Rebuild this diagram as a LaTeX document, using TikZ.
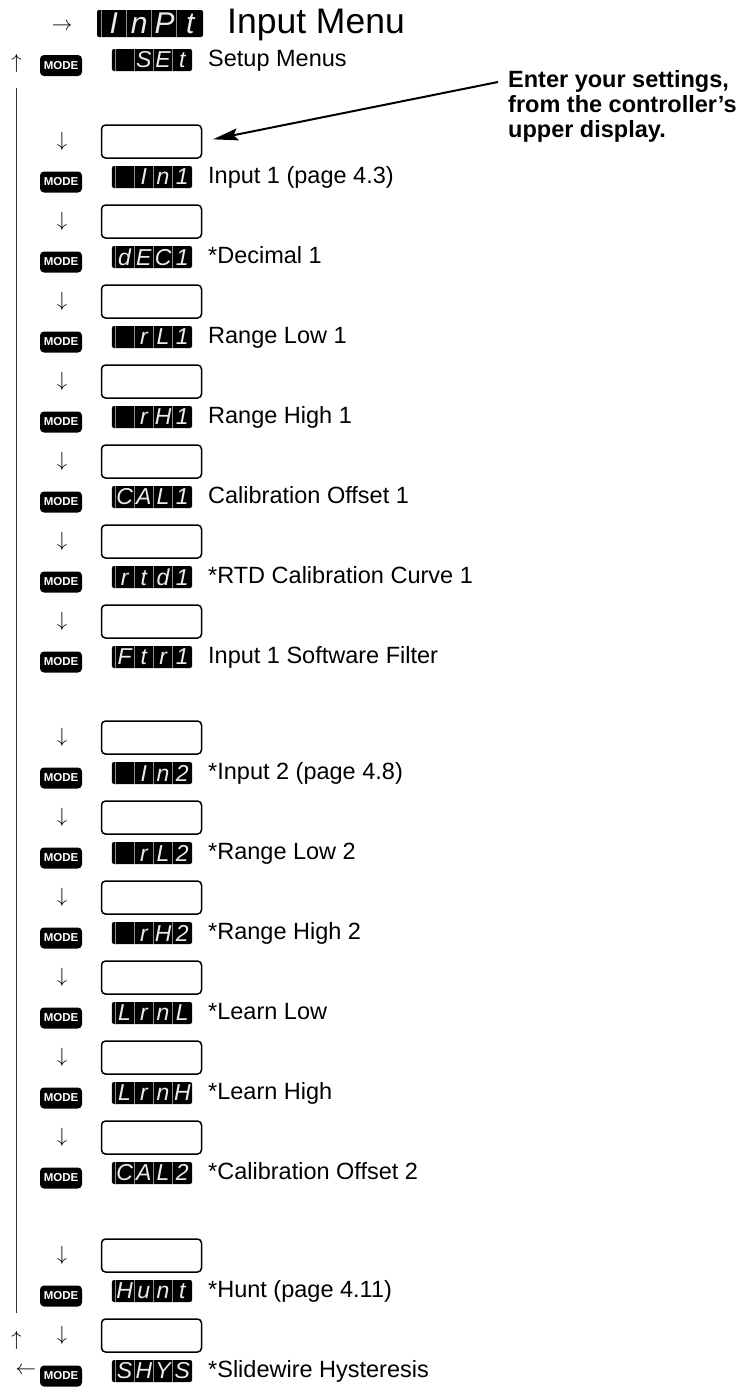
\documentclass[tikz,border=0pt]{standalone}
\usepackage{graphicx}
\usepackage{fontspec}
\setmainfont{Liberation Sans}
\usetikzlibrary{arrows.meta,calc}

% four cells of the controller display
\newcommand{\lcd}[5]{\vphantom{H}\kern0.156\dimexpr#1\relax\makebox[#1]{#2}\makebox[#1]{#3}\makebox[#1]{#4}\makebox[#1]{#5}}
% thin step arrows
\newcommand{\steparrow}[1]{\scalebox{2.05}{$#1$}}

\begin{document}
\begin{tikzpicture}[x=1pt,y=-1pt,>=Stealth,
lcdbox/.style={fill=black,rounded corners=2pt,minimum width=80pt,minimum height=22pt,inner sep=0pt,
  text=white!92!black,font=\fontsize{23}{23}\selectfont\itshape,
  path picture={\foreach \f in {0.0375,0.275,0.5125,0.75}
    \draw[black!45,line width=0.7pt]
    ($(path picture bounding box.south west)!\f!(path picture bounding box.south east)$)--
    ($(path picture bounding box.north west)!\f!(path picture bounding box.north east)$);}},
biglcd/.style={lcdbox,minimum width=106pt,minimum height=27pt,font=\fontsize{30}{30}\selectfont\itshape},
modekey/.style={fill=black,rounded corners=4pt,minimum width=42pt,minimum height=21pt,inner sep=0pt,
  text=white,font=\fontsize{11.5}{11.5}\selectfont\bfseries},
entry/.style={draw=black,line width=1.5pt,rounded corners=4pt,minimum width=100pt,minimum height=33pt,inner sep=0pt},
glyph/.style={inner sep=0pt,font=\normalsize},
itemtext/.style={anchor=base west,inner sep=0pt,font=\fontsize{23.5}{25}\selectfont},
title/.style={anchor=base west,inner sep=0pt,font=\fontsize{35.5}{36}\selectfont},
note/.style={anchor=north west,inner sep=0pt,align=left,font=\fontsize{23.5}{25}\selectfont\bfseries},
callout/.style={-{Stealth[length=25pt,width=12pt,inset=4pt]},line width=2pt,shorten >=11pt},
loopline/.style={line width=1pt,draw=black!80}]
\useasboundingbox (0,0) rectangle (755,1387);
% menu head
\node[glyph] (enter) at (62,27) {\steparrow{\rightarrow}};
\node[biglcd] (dInPt) at (150,23.5) {\lcd{25.5pt}{I}{n}{P}{t}};
\node[title] (tInPt) at (227,33) {Input Menu};
\node[glyph] (upT) at (16.5,63) {\steparrow{\uparrow}};
\node[modekey] (mSEt) at (61,65.5) {MODE};
\node[lcdbox] (dSEt) at (152,60) {\lcd{19.25pt}{}{S}{E}{t}};
\node[itemtext] (tSEt) at (208,66) {Setup Menus};
% prompts
\foreach \y/\n/\ca/\cb/\cc/\cd/\t in {
  177/In1/{}/I/n/1/{Input 1 (page 4.3)},
  257/dEC1/d/E/C/1/{*Decimal 1},
  337/rL1/{}/r/L/1/{Range Low 1},
  417/rH1/{}/r/H/1/{Range High 1},
  497/CAL1/C/A/L/1/{Calibration Offset 1},
  577/rtd1/r/t/d/1/{*RTD Calibration Curve 1},
  657/Ftr1/F/t/r/1/{Input 1 Software Filter},
  773/In2/{}/I/n/2/{*Input 2 (page 4.8)},
  853/rL2/{}/r/L/2/{*Range Low 2},
  933/rH2/{}/r/H/2/{*Range High 2},
  1013/LrnL/L/r/n/L/{*Learn Low},
  1093/LrnH/L/r/n/H/{*Learn High},
  1173/CAL2/C/A/L/2/{*Calibration Offset 2},
  1291/Hunt/H/u/n/t/{*Hunt (page 4.11)},
  1371/SHYS/S/H/Y/S/{*Slidewire Hysteresis}}{
  \node[entry] (b\n) at (151.5,\y-35.5) {};
  \node[glyph] (a\n) at (62,\y-35.5) {\steparrow{\downarrow}};
  \node[modekey] (m\n) at (61,\y+5) {MODE};
  \node[lcdbox] (d\n) at (152,\y) {\lcd{19.25pt}{\ca}{\cb}{\cc}{\cd}};
  \node[itemtext] (t\n) at (208,\y+6) {\t};
}
% return to the top
\node[glyph] (upB) at (16.5,1340) {\steparrow{\uparrow}};
\node[glyph] (back) at (26,1371) {\steparrow{\leftarrow}};
\draw[loopline] (upT.center)--(upB.center) [shorten <=25pt,shorten >=27pt];
% hint
\node[note] (hint) at (508,70) {Enter your settings,\\from the controller’s\\upper display.};
\coordinate (tail) at (498,82);
\draw[callout] (tail)--(bIn1.east);
\end{tikzpicture}
\end{document}
